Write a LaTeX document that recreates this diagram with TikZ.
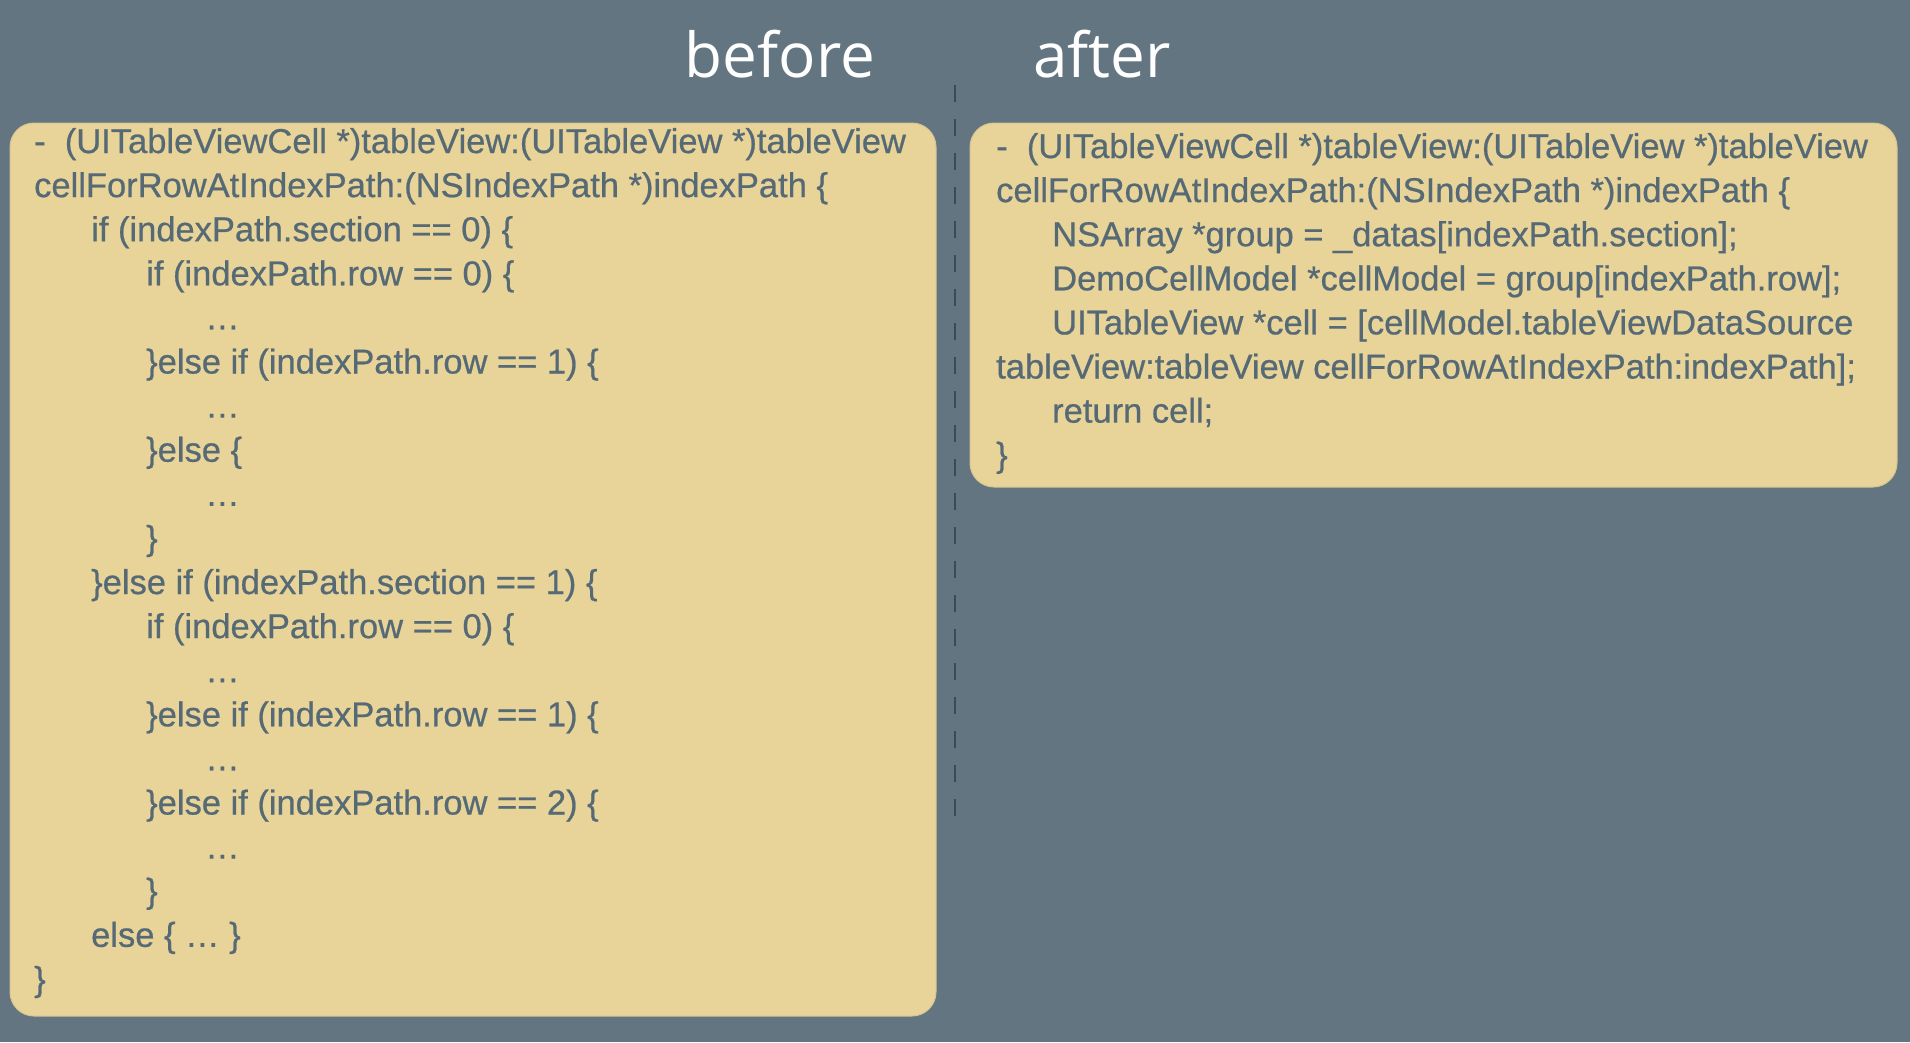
\documentclass[tikz,border=0pt]{standalone}
\usepackage{fontspec}
\setmainfont{Liberation Sans}
\newfontfamily\codefont[FakeBold=0.6]{Liberation Sans}
\newfontfamily\titlefont{Open Sans}
\definecolor{bgc}{RGB}{98,117,128}
\definecolor{boxc}{RGB}{232,211,153}
\definecolor{boxedge}{RGB}{214,196,145}
\definecolor{codec}{RGB}{86,106,118}
\definecolor{dashc}{RGB}{62,74,82}
\tikzset{
  codebox/.style={draw=boxedge, line width=1pt, fill=boxc, rounded corners=24pt},
  code/.style={anchor=base west, inner sep=0pt, text=codec, font=\codefont\fontsize{34.5}{44}\selectfont},
  title/.style={anchor=base, inner sep=0pt, text=white, font=\titlefont\fontsize{62}{70}\selectfont},
  divider/.style={draw=dashc, line width=1.3pt, dash pattern=on 17pt off 17pt}
}
\begin{document}
\begin{tikzpicture}[x=1pt, y=-1pt]
\fill[bgc] (0,0) rectangle (1910,1042);
\useasboundingbox (0,0) rectangle (1910,1042);

\node[title] (before) at (780,77) {before};
\node[title] (after) at (1102,77) {after};

\coordinate (dtop) at (955,85);
\coordinate (dbot) at (955,822);
\draw[divider] (dtop) -- (dbot);

\draw[codebox] (10,123) rectangle (936,1016);
\draw[codebox] (970,123) rectangle (1897,487);

% left box code
\node[code] (L1)  at (34,153)    {-\ \ (UITableViewCell *)tableView:(UITableView *)tableView};
\node[code] (L2)  at (34,197.1)  {cellForRowAtIndexPath:(NSIndexPath *)indexPath \{};
\node[code] (L3)  at (91,241.2)  {if (indexPath.section == 0) \{};
\node[code] (L4)  at (146,285.3) {if (indexPath.row == 0) \{};
\node[code] (L5)  at (205,329.4) {…};
\node[code] (L6)  at (146,373.5) {\}else if (indexPath.row == 1) \{};
\node[code] (L7)  at (205,417.6) {…};
\node[code] (L8)  at (146,461.7) {\}else \{};
\node[code] (L9)  at (205,505.8) {…};
\node[code] (L10) at (146,549.9) {\}};
\node[code] (L11) at (91,594.0)  {\}else if (indexPath.section == 1) \{};
\node[code] (L12) at (146,638.1) {if (indexPath.row == 0) \{};
\node[code] (L13) at (205,682.2) {…};
\node[code] (L14) at (146,726.3) {\}else if (indexPath.row == 1) \{};
\node[code] (L15) at (205,770.4) {…};
\node[code] (L16) at (146,814.5) {\}else if (indexPath.row == 2) \{};
\node[code] (L17) at (205,858.6) {…};
\node[code] (L18) at (146,902.7) {\}};
\node[code] (L19) at (91,946.8)  {else \{ … \}};
\node[code] (L20) at (34,990.9)  {\}};

% right box code
\node[code] (R1) at (996,158)    {-\ \ (UITableViewCell *)tableView:(UITableView *)tableView};
\node[code] (R2) at (996,202.1)  {cellForRowAtIndexPath:(NSIndexPath *)indexPath \{};
\node[code] (R3) at (1052,246.2) {NSArray *group = \_datas[indexPath.section];};
\node[code] (R4) at (1052,290.3) {DemoCellModel *cellModel = group[indexPath.row];};
\node[code] (R5) at (1052,334.4) {UITableView *cell = [cellModel.tableViewDataSource};
\node[code] (R6) at (996,378.5)  {tableView:tableView cellForRowAtIndexPath:indexPath];};
\node[code] (R7) at (1052,422.6) {return cell;};
\node[code] (R8) at (996,466.7)  {\}};
\end{tikzpicture}
\end{document}
